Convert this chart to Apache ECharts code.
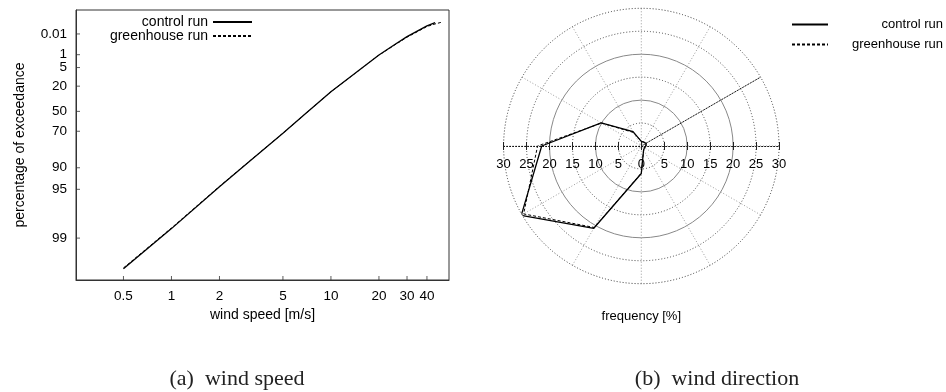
<!DOCTYPE html>
<html><head><meta charset="utf-8">
<script src="https://cdn.jsdelivr.net/npm/echarts@6/dist/echarts.min.js"></script>
<style>html,body{margin:0;padding:0;background:#fff}#c{width:946px;height:392px}</style>
</head><body><div id="c"></div>
<script>
const seriesNames = ['control run', 'greenhouse run'];

// (a) wind speed [m/s] vs percentage of exceedance
const speedControl     = [0.5, 1, 2, 3, 5, 7, 10, 15, 20, 25, 30, 35, 40, 45];
const exceedControl    = [99.64, 98.63, 94.57, 88.4, 71.68, 51.9, 26.24, 6.42, 1.043, 0.166, 0.0222, 0.0037, 0.00059, 0.00014];
const speedGreenhouse  = [0.5, 1, 2, 3, 5, 7, 10, 15, 20, 25, 30, 35, 40, 45, 50];
const exceedGreenhouse = [99.63, 98.6, 94.5, 88.3, 71.6, 51.9, 26.3, 6.5, 1.07, 0.18, 0.026, 0.0046, 0.00075, 0.00026, 0.00011];
const speedTicks  = [0.5, 1, 2, 5, 10, 20, 30, 40];
const speedRange  = [0.252, 55];
const exceedTicks = [0.01, 1, 5, 20, 50, 70, 90, 95, 99];
const exceedTickLabels = ['0.01', '1', '5', '20', '50', '70', '90', '95', '99'];
const weibRange   = [-6.0, 3.02];   // y extent in Weibull units

// (b) wind direction: frequency [%] per direction sector (degrees, counter-clockwise from east)
const directions     = [0, 30, 60, 90, 120, 150, 180, 210, 240, 270, 300, 330];
const freqControl    = [1.0, 1.2, 1.0, 1.0, 3.6, 10.1, 21.7, 30.2, 20.7, 6.0, 1.0, 0.8];
const freqGreenhouse = [1.0, 1.2, 1.0, 1.0, 3.4, 10.0, 22.6, 29.6, 20.5, 5.9, 1.0, 0.8];
const freqTicks = [-30, 30];   // frequency axis extent (both sides of centre)

// Weibull probability-paper transform of exceedance (%)
const weib = p => Math.log(-Math.log(p / 100));
const pairsXY = (xs, ps) => xs.map((x, i) => [x, weib(ps[i])]);
const polarPairs = (fs) => { const d = directions.map((a, i) => [fs[i], a]); d.push([fs[0], directions[0]]); return d; };

const FONT = '"Liberation Sans", Arial, sans-serif';
const DOT = [1, 2];
const TICK = '#333';
const chart = echarts.init(document.getElementById('c'));
const cx = 641.3, cy = 146, R = 137.7;

const tickSeries = (data, size, offset) => ({
  type: 'scatter', xAxisIndex: 0, yAxisIndex: 0, silent: true, clip: false, z: 5,
  symbol: 'rect', symbolSize: size, symbolOffset: offset,
  itemStyle: { color: TICK }, data
});

chart.setOption({
  animation: false,
  tooltip: { show: false },
  textStyle: { fontFamily: FONT, color: '#000' },
  grid: [
    { left: 76, top: 10, width: 373, height: 270, show: true, borderColor: '#333', borderWidth: 1, backgroundColor: 'transparent' },
    { left: cx - R, top: cy - 46, width: 2 * R, height: 46, show: false }
  ],
  xAxis: [
    { gridIndex: 0, type: 'log', logBase: 10, min: speedRange[0], max: speedRange[1], position: 'bottom',
      name: 'wind speed [m/s]', nameLocation: 'middle', nameGap: 26,
      nameTextStyle: { fontSize: 14, color: '#000' },
      axisLine: { show: true, onZero: false, lineStyle: { color: '#333' } },
      axisTick: { show: false },
      axisLabel: { customValues: speedTicks, fontSize: 13.5, color: '#000', margin: 9, formatter: v => String(v) },
      splitLine: { show: false }, minorTick: { show: false } },
    { gridIndex: 1, type: 'value', position: 'bottom', min: freqTicks[0], max: freqTicks[1], interval: 5,
      name: 'frequency [%]', nameLocation: 'middle', nameGap: 164,
      nameTextStyle: { fontSize: 13, color: '#000' },
      axisLine: { show: true, onZero: false, lineStyle: { color: '#111', type: DOT, width: 1 } },
      axisTick: { show: true, length: 4, lineStyle: { color: '#222' } },
      axisLabel: { fontSize: 13, color: '#000', margin: 12, formatter: v => String(Math.abs(v)) },
      splitLine: { show: false } },
    { gridIndex: 1, type: 'value', position: 'bottom', min: freqTicks[0], max: freqTicks[1], interval: 5,
      axisLine: { show: false, onZero: false },
      axisTick: { show: true, inside: true, length: 4, lineStyle: { color: '#222' } },
      axisLabel: { show: false }, splitLine: { show: false } }
  ],
  yAxis: [
    { gridIndex: 0, type: 'value', min: weibRange[0], max: weibRange[1],
      name: 'percentage of exceedance', nameLocation: 'middle', nameGap: 49,
      nameTextStyle: { fontSize: 14, color: '#000' },
      axisLine: { show: true, onZero: false, lineStyle: { color: '#333' } },
      axisTick: { show: false },
      axisLabel: { customValues: exceedTicks.map(weib), interval: 0, fontSize: 13.5, color: '#000', margin: 9,
        formatter: v => { let best = 0, bd = Infinity; exceedTicks.forEach((p, i) => { const d = Math.abs(weib(p) - v); if (d < bd) { bd = d; best = i; } }); return exceedTickLabels[best]; } },
      splitLine: { show: false } },
    { gridIndex: 1, type: 'value', show: false, min: 0, max: 1 }
  ],
  polar: [
    { center: [cx, cy], radius: R },
    { center: [cx, cy], radius: R }
  ],
  angleAxis: [
    { polarIndex: 0, type: 'value', min: 0, max: 360, interval: 30, startAngle: 0, clockwise: false,
      axisLine: { show: true, lineStyle: { color: '#333', type: DOT, width: 1 } },
      axisTick: { show: false }, axisLabel: { show: false },
      splitLine: { show: true, lineStyle: { color: '#999', type: DOT, width: 1 } } },
    { polarIndex: 1, type: 'value', min: 0, max: 360, startAngle: 30, clockwise: false,
      axisLine: { show: false }, axisTick: { show: false }, axisLabel: { show: false }, splitLine: { show: false } }
  ],
  radiusAxis: [
    { polarIndex: 0, type: 'value', min: 0, max: 30, interval: 10,
      axisLine: { show: false }, axisTick: { show: false }, axisLabel: { show: false },
      splitLine: { show: true, lineStyle: { color: ['#888', '#888', '#888', 'rgba(0,0,0,0)'], type: 'solid', width: 1 } },
      minorTick: { show: false, splitNumber: 2 },
      minorSplitLine: { show: true, lineStyle: { color: '#444', type: DOT, width: 1 } } },
    { polarIndex: 1, type: 'value', min: 0, max: 30,
      axisLine: { show: true, lineStyle: { color: '#111', type: DOT, width: 1 } },
      axisTick: { show: false }, axisLabel: { show: false }, splitLine: { show: false } }
  ],
  legend: [
    { data: seriesNames, orient: 'vertical', align: 'right', right: 946 - 253, top: 15, padding: 0,
      itemWidth: 39, itemHeight: 8, itemGap: 0,
      itemStyle: { opacity: 0 },
      textStyle: { fontSize: 14, color: '#000' } },
    { data: seriesNames, orient: 'vertical', align: 'left', left: 791, top: 18, padding: 0,
      itemWidth: 36, itemHeight: 10, itemGap: 7,
      itemStyle: { opacity: 0 },
      formatter: '{a|{name}}',
      textStyle: { rich: { a: { width: 110, align: 'right', fontSize: 13, color: '#000', fontFamily: FONT } } } }
  ],
  series: [
    { name: seriesNames[0], type: 'line', xAxisIndex: 0, yAxisIndex: 0, symbol: 'none',
      data: pairsXY(speedControl, exceedControl),
      lineStyle: { color: '#000', width: 1.3, type: 'solid' }, itemStyle: { color: '#000' } },
    { name: seriesNames[1], type: 'line', xAxisIndex: 0, yAxisIndex: 0, symbol: 'none',
      data: pairsXY(speedGreenhouse, exceedGreenhouse),
      lineStyle: { color: '#000', width: 1, type: [3, 2] }, itemStyle: { color: '#000' } },
    // inward tick marks of the probability (y) and log wind-speed (x) axes
    tickSeries(exceedTicks.map(p => [speedRange[0], weib(p)]), [4, 1], [2, 0]),
    tickSeries(speedTicks.map(v => [v, weibRange[0]]), [1, 4], [0, -2]),
    { name: seriesNames[0], type: 'line', coordinateSystem: 'polar', polarIndex: 0, symbol: 'none',
      data: polarPairs(freqControl),
      lineStyle: { color: '#000', width: 1.3, type: 'solid' }, itemStyle: { color: '#000' } },
    { name: seriesNames[1], type: 'line', coordinateSystem: 'polar', polarIndex: 0, symbol: 'none',
      data: polarPairs(freqGreenhouse),
      lineStyle: { color: '#000', width: 1, type: [3, 2] }, itemStyle: { color: '#000' } }
  ],
  graphic: [
    { type: 'text', x: 237, y: 379, style: { text: '(a)  wind speed', align: 'center', verticalAlign: 'middle', textAlign: 'center', textVerticalAlign: 'middle', font: '22px "Liberation Serif", "Times New Roman", serif', fill: '#222' } },
    { type: 'text', x: 717, y: 379, style: { text: '(b)  wind direction', align: 'center', verticalAlign: 'middle', textAlign: 'center', textVerticalAlign: 'middle', font: '22px "Liberation Serif", "Times New Roman", serif', fill: '#222' } }
  ]
});
</script></body></html>
